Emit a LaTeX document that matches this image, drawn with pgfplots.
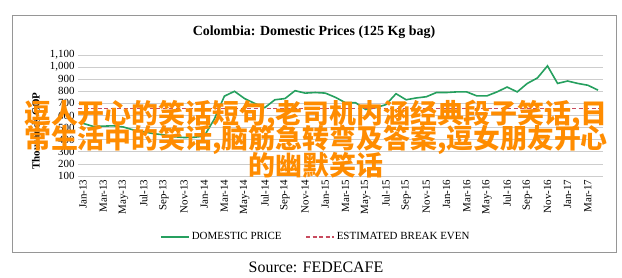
\documentclass[border=0pt]{standalone}
\usepackage{pgfplots}
\pgfplotsset{compat=1.18}
\usepackage{fontspec}
\setmainfont{Liberation Serif}
\newfontfamily\cjk{Noto Sans CJK SC}
\definecolor{dgreen}{RGB}{38,160,95}
\definecolor{bered}{RGB}{200,75,95}
\definecolor{gridc}{RGB}{205,205,205}
\definecolor{framec}{RGB}{150,150,150}
\definecolor{orng}{RGB}{255,140,0}
\begin{document}
\begin{tikzpicture}[x=1bp,y=1bp]
\path (0,0) rectangle (622,277);
\draw[framec, line width=0.8bp] (12,25) rectangle (616,262);
\begin{axis}[
  at={(78bp,101bp)}, anchor=south west, scale only axis,
  width=525bp, height=121bp,
  xmin=-0.5, xmax=51.5, ymin=100, ymax=1100,
  axis line style={draw=none},
  major tick length=0pt,
  ytick={100,200,...,1100},
  ymajorgrids, grid style={gridc, line width=0.8bp},
  /pgf/number format/.cd, 1000 sep={,}, assume math mode=true,
  /pgfplots/.cd,
  xtick={0,2,...,50},
  xticklabels={Jan-13,Mar-13,May-13,Jul-13,Sep-13,Nov-13,Jan-14,Mar-14,May-14,Jul-14,Sep-14,Nov-14,Jan-15,Mar-15,May-15,Jul-15,Sep-15,Nov-15,Jan-16,Mar-16,May-16,Jul-16,Sep-16,Nov-16,Jan-17,Mar-17},
  xticklabel style={rotate=90, anchor=east, font=\fontsize{11}{12}\selectfont},
  yticklabel style={font=\fontsize{11}{12}\selectfont},
  legend columns=2,
  legend style={at={(0.453,-0.504)}, anchor=center, draw=none, fill=none,
    font=\fontsize{11}{12}\selectfont, /tikz/every even column/.append style={column sep=22bp}},
  legend image code/.code={\draw[#1] (0bp,0bp) -- (28bp,0bp);},
]
\addplot[dgreen, line width=1.6bp] coordinates {
(0,535)(1,510)(2,512)(3,515)(4,505)(5,480)(6,465)(7,450)(8,440)(9,425)(10,418)(11,420)
(12,430)(13,570)(14,760)(15,800)(16,740)(17,700)(18,665)(19,730)(20,740)(21,805)(22,785)(23,790)
(24,785)(25,750)(26,705)(27,705)(28,650)(29,665)(30,690)(31,780)(32,730)(33,745)(34,755)(35,790)
(36,790)(37,795)(38,795)(39,762)(40,762)(41,795)(42,835)(43,795)(44,865)(45,910)(46,1010)(47,865)
(48,885)(49,865)(50,850)(51,810)};
\addlegendentry{DOMESTIC PRICE}
\addplot[bered, line width=1.2bp, dash pattern=on 4bp off 2.5bp] coordinates {(-0.5,657)(51.5,657)};
\addlegendentry{ESTIMATED BREAK EVEN}
\end{axis}
\node[font=\bfseries\fontsize{14}{16}\selectfont] at (314,245) {Colombia: Domestic Prices (125 Kg bag)};
\node[font=\bfseries\fontsize{11}{12}\selectfont, rotate=90] at (36,146) {Thousands COP};
\node[font=\fontsize{16}{18}\selectfont] at (316,10) {Source: FEDECAFE};
\node[orng, font=\cjk\bfseries\fontsize{27}{28}\selectfont, inner sep=0pt] at (316,162) {逗人开心的笑话短句,老司机内涵经典段子笑话,日};
\node[orng, font=\cjk\bfseries\fontsize{27}{28}\selectfont, inner sep=0pt] at (316,137) {常生活中的笑话,脑筋急转弯及答案,逗女朋友开心};
\node[orng, font=\cjk\bfseries\fontsize{27}{28}\selectfont, inner sep=0pt] at (316,112) {的幽默笑话};
\end{tikzpicture}
\end{document}
